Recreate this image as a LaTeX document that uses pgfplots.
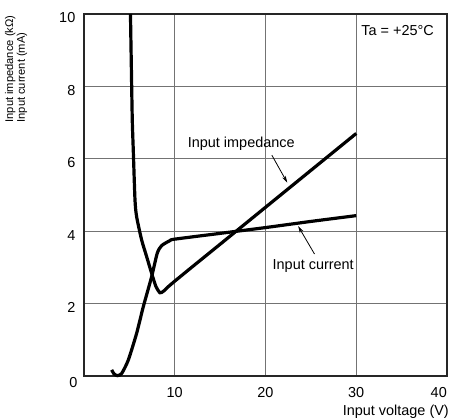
\documentclass[border=0pt]{standalone}
\usepackage{fontspec}
\setmainfont{Liberation Sans}
\usepackage{pgfplots}
\pgfplotsset{compat=1.18}
\usetikzlibrary{arrows.meta}
\begin{document}
\begin{tikzpicture}[x=1bp,y=1bp]
\begin{axis}[
  scale only axis,
  width=363bp, height=362bp,
  xmin=0, xmax=40, ymin=0, ymax=10,
  xtick={10,20,30},
  extra x ticks={40},
  extra x tick style={grid=none, xticklabel style={anchor=north east}},
  ytick={2,4,6,8,10},
  extra y ticks={0},
  extra y tick style={grid=none, yticklabel style={yshift=-2.5bp, xshift=2bp}},
  major tick length=0pt,
  grid=major,
  grid style={black!55, line width=0.8bp},
  axis line style={black!85, line width=1.2bp},
  font=\fontsize{14.5}{17}\selectfont,
  /pgf/number format/assume math mode=true,
  xticklabel style={anchor=north, inner sep=0pt, yshift=-11bp},
  yticklabel style={anchor=east, inner sep=0pt, xshift=-8.5bp, yshift=-4bp},
  xlabel={Input voltage (V)},
  xlabel style={at={(rel axis cs:1,0)}, anchor=base east, inner sep=0pt, xshift=2bp, yshift=-39.3bp},
  clip=false,
]
% Input impedance
\addplot[black, line width=3.2bp, smooth, tension=0.4] coordinates {
  (5.12,10) (5.22,8.5) (5.32,7.07) (5.43,6.24) (5.62,4.86) (5.80,4.40)
  (6.35,3.76) (6.90,3.30) (7.45,2.84) (7.93,2.47) (8.37,2.30) (8.75,2.34)
  (9.3,2.47) (10,2.62) (12,3.03) (15,3.64) (20,4.66) (25,5.68) (30,6.70)
};
% Input current
\addplot[black, line width=3.2bp, smooth, tension=0.4] coordinates {
  (3.05,0.17) (3.3,0.06) (3.67,0.01) (4.15,0.07) (4.88,0.44) (5.8,1.18)
  (6.53,1.91) (7.45,2.74) (8.07,3.39) (8.55,3.60) (9.47,3.74) (10,3.78)
  (15,3.94) (20,4.10) (25,4.27) (30,4.43)
};
\draw[black, line width=0.8bp, -{Stealth[length=7bp,width=4bp]}] (axis cs:20.7,6.1) -- (axis cs:22.4,5.34);
\draw[black, line width=0.8bp, -{Stealth[length=7bp,width=4bp]}] (axis cs:25.4,3.37) -- (axis cs:23.6,4.14);
\node[anchor=base, inner sep=0pt] at (axis cs:17.33,6.32) {Input impedance};
\node[anchor=base, inner sep=0pt] at (axis cs:25.26,2.93) {Input current};
\node[anchor=north west, inner sep=0pt, xshift=5bp, yshift=-11bp] at (axis cs:30,10) {Ta = +25°C};
\node[rotate=90, anchor=center, align=left, inner sep=0pt, font=\fontsize{11.2}{12}\selectfont] at (rel axis cs:-0.187,0.848) {Input impedance (kΩ)\\Input current (mA)};
\coordinate (LL) at (rel axis cs:0,0);
\end{axis}
\pgfresetboundingbox
\path[use as bounding box] ([shift={(-84bp,-43bp)}]LL) rectangle ++(449bp,419bp);
\end{tikzpicture}
\end{document}
